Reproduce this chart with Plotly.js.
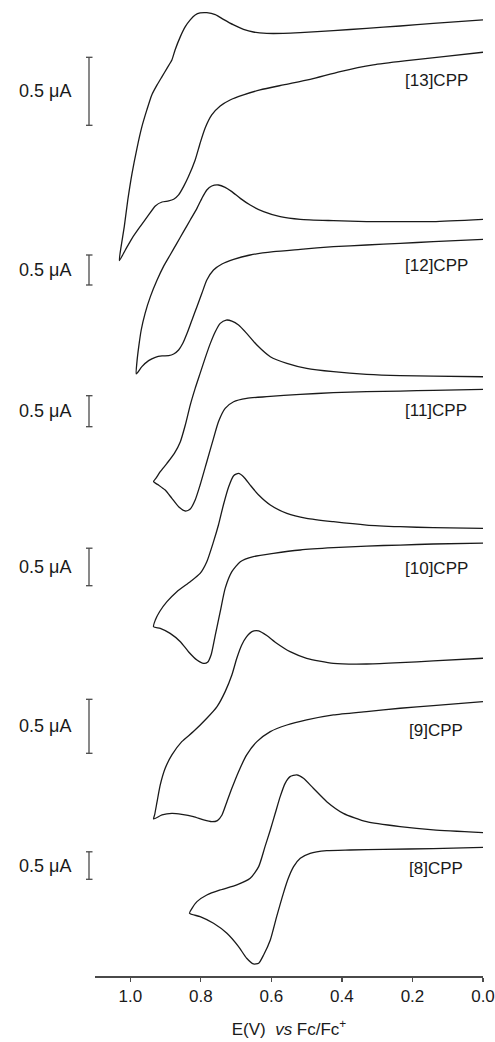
<!DOCTYPE html>
<html>
<head>
<meta charset="utf-8">
<script src="https://cdn.plot.ly/plotly-3.0.1.min.js"></script>
<style>html,body{margin:0;padding:0;background:#fff;}#chart{width:495px;height:1042px;}</style>
</head>
<body>
<div id="chart"></div>
<script>
// Cyclic voltammograms of [n]CPP, potential E (V vs Fc/Fc+), current (uA)
const labels = ['[13]CPP', '[12]CPP', '[11]CPP', '[10]CPP', '[9]CPP', '[8]CPP'];
const tickVals = [1.0, 0.8, 0.6, 0.4, 0.2, 0.0];
const tickText = ['1.0', '0.8', '0.6', '0.4', '0.2', '0.0'];
const scaleBarCurrent = 0.5; // uA

// [13]CPP
const E13 = [0.000,0.141,0.235,0.330,0.424,0.518,0.566,0.613,0.651,0.679,0.707,0.736,0.759,0.783,0.802,0.816,0.830,0.844,0.858,0.873,0.882,0.896,0.910,0.924,0.939,0.953,0.967,0.981,0.995,1.007,1.017,1.026,1.031,
             1.014,0.995,0.972,0.948,0.929,0.910,0.891,0.877,0.863,0.849,0.835,0.816,0.802,0.788,0.769,0.745,0.717,0.679,0.632,0.566,0.490,0.405,0.311,0.216,0.112,0.000];
const I13 = [0.775,0.750,0.730,0.713,0.696,0.681,0.676,0.676,0.686,0.706,0.738,0.779,0.814,0.828,0.826,0.811,0.775,0.725,0.652,0.554,0.480,0.419,0.358,0.297,0.223,0.113,-0.010,-0.169,-0.353,-0.549,-0.745,-0.892,-0.995,
             -0.917,-0.831,-0.745,-0.659,-0.593,-0.564,-0.556,-0.544,-0.512,-0.451,-0.377,-0.255,-0.132,-0.022,0.076,0.142,0.186,0.223,0.260,0.297,0.338,0.395,0.444,0.475,0.505,0.537];
// [12]CPP
const E12 = [0.000,0.141,0.235,0.330,0.424,0.518,0.575,0.622,0.660,0.688,0.712,0.731,0.750,0.769,0.783,0.797,0.811,0.830,0.849,0.868,0.887,0.906,0.924,0.943,0.958,0.969,0.976,0.981,0.983,
             0.967,0.948,0.929,0.910,0.891,0.877,0.863,0.851,0.839,0.825,0.811,0.797,0.783,0.764,0.740,0.707,0.660,0.594,0.518,0.424,0.330,0.235,0.141,0.000];
const I12 = [1.094,1.056,1.056,1.056,1.072,1.094,1.139,1.222,1.333,1.444,1.556,1.628,1.667,1.650,1.583,1.444,1.278,1.083,0.889,0.694,0.500,0.306,0.083,-0.194,-0.472,-0.750,-1.028,-1.278,-1.483,
             -1.361,-1.261,-1.206,-1.183,-1.178,-1.150,-1.083,-0.972,-0.806,-0.583,-0.361,-0.139,0.083,0.250,0.350,0.428,0.500,0.556,0.594,0.639,0.667,0.694,0.722,0.761];
// [11]CPP
const E11 = [0.000,0.141,0.235,0.330,0.424,0.500,0.556,0.603,0.641,0.670,0.693,0.712,0.728,0.745,0.759,0.773,0.788,0.802,0.816,0.830,0.844,0.858,0.875,0.896,0.915,0.926,0.934,
             0.920,0.901,0.882,0.863,0.844,0.830,0.816,0.802,0.783,0.764,0.750,0.731,0.707,0.670,0.613,0.518,0.424,0.330,0.235,0.141,0.000];
const I11 = [0.806,0.817,0.823,0.844,0.887,0.941,1.022,1.129,1.317,1.505,1.640,1.704,1.720,1.667,1.532,1.344,1.102,0.860,0.618,0.349,0.027,-0.242,-0.430,-0.591,-0.726,-0.823,-0.887,
             -0.941,-1.022,-1.156,-1.290,-1.360,-1.328,-1.183,-0.941,-0.565,-0.188,0.081,0.296,0.403,0.457,0.484,0.522,0.548,0.565,0.575,0.586,0.602];
// [10]CPP
const E10 = [0.000,0.141,0.235,0.330,0.424,0.500,0.556,0.603,0.636,0.660,0.679,0.693,0.707,0.721,0.736,0.750,0.764,0.783,0.802,0.830,0.868,0.896,0.917,0.929,0.934,
             0.915,0.887,0.858,0.835,0.811,0.792,0.781,0.771,0.759,0.745,0.731,0.712,0.688,0.651,0.594,0.518,0.424,0.330,0.235,0.141,0.000];
const I10 = [0.764,0.773,0.787,0.809,0.853,0.898,0.964,1.076,1.209,1.342,1.453,1.498,1.467,1.320,1.076,0.809,0.587,0.320,0.164,0.053,-0.080,-0.213,-0.347,-0.458,-0.547,
             -0.569,-0.636,-0.747,-0.880,-0.991,-1.036,-1.022,-0.924,-0.658,-0.347,-0.036,0.187,0.320,0.387,0.431,0.476,0.507,0.529,0.542,0.556,0.569];
// [9]CPP
const E9 = [0.000,0.141,0.235,0.330,0.424,0.500,0.547,0.585,0.613,0.636,0.655,0.670,0.684,0.698,0.712,0.731,0.754,0.783,0.821,0.854,0.882,0.901,0.915,0.924,0.931,0.934,
            0.910,0.882,0.854,0.821,0.792,0.769,0.753,0.740,0.726,0.712,0.693,0.670,0.641,0.603,0.556,0.500,0.424,0.330,0.235,0.141,0.000];
const I9 = [0.880,0.855,0.840,0.827,0.833,0.880,0.941,1.019,1.090,1.133,1.127,1.080,1.003,0.880,0.725,0.571,0.432,0.324,0.201,0.108,-0.015,-0.139,-0.293,-0.448,-0.571,-0.608,
            -0.571,-0.556,-0.565,-0.586,-0.617,-0.633,-0.623,-0.571,-0.448,-0.324,-0.170,-0.015,0.108,0.201,0.262,0.309,0.355,0.386,0.417,0.441,0.478];
// [8]CPP
const E8 = [0.000,0.141,0.235,0.330,0.396,0.443,0.481,0.509,0.528,0.547,0.561,0.575,0.589,0.603,0.618,0.636,0.660,0.698,0.745,0.783,0.811,0.825,0.832,
            0.802,0.764,0.726,0.693,0.670,0.651,0.636,0.622,0.603,0.585,0.566,0.552,0.537,0.518,0.490,0.443,0.377,0.282,0.141,0.000];
const I8 = [0.848,0.897,0.958,1.048,1.200,1.412,1.655,1.836,1.897,1.867,1.745,1.503,1.200,0.897,0.594,0.230,0.018,-0.103,-0.194,-0.285,-0.406,-0.527,-0.618,
            -0.679,-0.800,-0.982,-1.224,-1.436,-1.539,-1.527,-1.376,-1.103,-0.679,-0.255,0.018,0.230,0.382,0.473,0.521,0.533,0.545,0.558,0.582];

// ---- layout / stacking configuration (display units on a hidden y axis) ----
const potentials = [E13, E12, E11, E10, E9, E8];
const currents = [I13, I12, I11, I10, I9, I8];
const stackOffset = [850.7, 691.0, 549.3, 390.3, 222.7, 96.7];   // display position of each trace's zero
const stackGain = [136, 60, 62, 75, 108, 55];                    // display units per uA (each trace scaled separately)
const labelPos = [896, 711, 566, 408, 246, 108];                 // display y of the compound label
const labelE = 0.133;

const W = 495, H = 1042;
const mL = 95, mR = 12, mT = 0, mB = 66;
const plotW = W - mL - mR;
const toPaperX = px => (px - mL) / plotW;

const ink = '#1a1a1a';
const grey = '#4a4a4a';
const font = 'Liberation Sans, Arial, Helvetica, sans-serif';

const traces = potentials.map((E, k) => ({
  type: 'scatter', mode: 'lines',
  x: E,
  y: currents[k].map(v => stackOffset[k] + stackGain[k] * v),
  line: {color: ink, width: 1.3, shape: 'spline', smoothing: 0.6},
  name: labels[k], showlegend: false, hoverinfo: 'skip'
}));

const shapes = [];
const annotations = [];
const barX = toPaperX(89), capL = toPaperX(86), capR = toPaperX(92.5);
stackOffset.forEach((o, k) => {
  const y0 = o, y1 = o + stackGain[k] * scaleBarCurrent;
  shapes.push({type: 'line', xref: 'paper', yref: 'y', x0: barX, x1: barX, y0: y0, y1: y1, line: {color: grey, width: 1.3}});
  shapes.push({type: 'line', xref: 'paper', yref: 'y', x0: capL, x1: capR, y0: y0, y1: y0, line: {color: grey, width: 1.3}});
  shapes.push({type: 'line', xref: 'paper', yref: 'y', x0: capL, x1: capR, y0: y1, y1: y1, line: {color: grey, width: 1.3}});
  annotations.push({xref: 'paper', yref: 'y', x: toPaperX(73), y: (y0 + y1) / 2, xanchor: 'right', yanchor: 'middle',
    text: scaleBarCurrent.toFixed(1) + ' \u03bcA', showarrow: false, font: {family: font, size: 18, color: ink}});
  annotations.push({xref: 'x', yref: 'y', x: labelE, y: labelPos[k], xanchor: 'center', yanchor: 'middle',
    text: labels[k], showarrow: false, font: {family: font, size: 17, color: ink}});
});

const layout = {
  width: W, height: H,
  margin: {l: mL, r: mR, t: mT, b: mB, pad: 0},
  paper_bgcolor: '#ffffff', plot_bgcolor: '#ffffff',
  showlegend: false,
  xaxis: {
    range: [1.1, 0.0], showgrid: false, zeroline: false,
    showline: true, linecolor: grey, linewidth: 1.5,
    ticks: 'outside', ticklen: 4, tickwidth: 1.3, tickcolor: grey,
    tickvals: tickVals, ticktext: tickText,
    ticklabeloverflow: 'allow',
    tickfont: {family: font, size: 17, color: ink},
    title: {text: 'E(V)  <i>vs</i> Fc/Fc<sup>+</sup>', font: {family: font, size: 17, color: ink}, standoff: 18},
    fixedrange: true
  },
  yaxis: {range: [0, 976], visible: false, showgrid: false, zeroline: false, fixedrange: true},
  shapes: shapes,
  annotations: annotations,
  font: {family: font, color: ink}
};

Plotly.newPlot('chart', traces, layout, {staticPlot: true, displayModeBar: false});
</script>
</body>
</html>
